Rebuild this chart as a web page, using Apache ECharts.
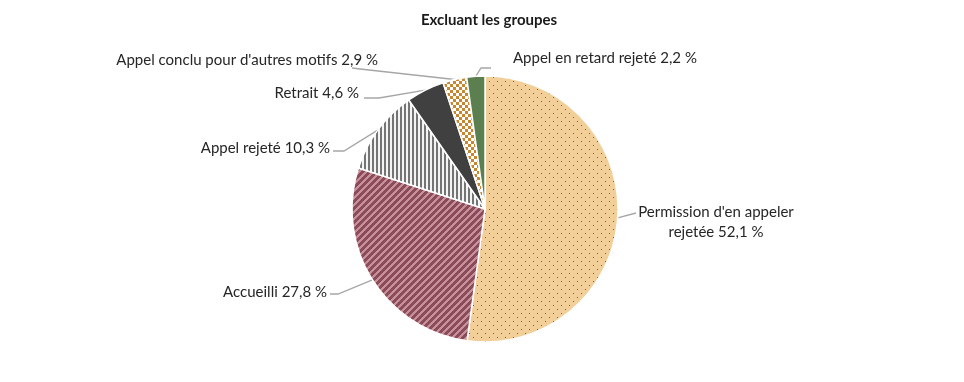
<!DOCTYPE html>
<html><head><meta charset="utf-8">
<script src="https://cdn.jsdelivr.net/npm/echarts@6/dist/echarts.min.js"></script>
<style>html,body{margin:0;padding:0;background:#fff}#c{width:964px;height:382px}</style>
</head><body><div id="c"></div>
<script>
const categories = ["Permission d'en appeler\nrejetée", "Accueilli", "Appel rejeté", "Retrait", "Appel conclu pour d'autres motifs", "Appel en retard rejeté"];
const values = [52.1, 27.8, 10.3, 4.6, 2.9, 2.2];
const valueLabels = ["52,1 %", "27,8 %", "10,3 %", "4,6 %", "2,9 %", "2,2 %"];
const title = "Excluant les groupes";

function pat(w, h, draw) {
  const c = document.createElement('canvas'); c.width = w; c.height = h;
  const g = c.getContext('2d'); draw(g, w, h); return c;
}
const dots = pat(8, 8, (g) => { g.fillStyle = '#F2CF98'; g.fillRect(0,0,8,8); g.fillStyle = '#66615a'; g.fillRect(1,1,1,1); g.fillRect(5,5,1,1); });
const diag = pat(7, 7, (g) => { for (let x=0;x<7;x++) for (let y=0;y<7;y++){ g.fillStyle = ((x+y)%7<4)?'#8C4B59':'#C6919B'; g.fillRect(x,y,1,1);} });
const vert = pat(4, 4, (g) => { g.fillStyle='#747474'; g.fillRect(0,0,4,4); g.fillStyle='#f4f4f4'; g.fillRect(2,0,2,4); });
const checker = pat(6, 6, (g) => { g.fillStyle='#ffffff'; g.fillRect(0,0,6,6); g.fillStyle='#C8862E'; g.fillRect(0,0,3,3); g.fillRect(3,3,3,3); });
const fills = [ {image: dots, repeat:'repeat'}, {image: diag, repeat:'repeat'}, {image: vert, repeat:'repeat'}, '#404040', {image: checker, repeat:'repeat'}, '#5B7F4F' ];

const labelPlace = [
  {x:716, y:222, align:'center', bend:[636,213], end:[636,213]},
  {x:327, y:292, align:'right', bend:[338,294], end:[330,294]},
  {x:330, y:148, align:'right', bend:[344,151], end:[333,151]},
  {x:359, y:93, align:'right', bend:[379,98], end:[364,98]},
  {x:378, y:60, align:'right', bend:[360,69], end:[352,68]},
  {x:513, y:58, align:'left', bend:[481,68], end:[491,68]}
];

const chart = echarts.init(document.getElementById('c'));
chart.setOption({
  animation: false,
  title: { text: title, left: 484, top: 8, textAlign: 'center', textStyle: { fontFamily: 'Lato', fontWeight: 'bold', fontSize: 15, color: '#1a1a1a' } },
  series: [{
    type: 'pie', center: [485, 209], radius: 133, startAngle: 90, clockwise: true,
    avoidLabelOverlap: false,
    itemStyle: { borderColor: '#fff', borderWidth: 1.5 },
    label: { show: true, position: 'outside', fontFamily: 'Lato', fontSize: 15, color: '#262626', lineHeight: 20,
      formatter: p => p.name + ' ' + valueLabels[p.dataIndex] },
    labelLine: { show: true, lineStyle: { color: '#a6a6a6', width: 1.3 } },
    labelLayout: function (p) {
      const L = labelPlace[p.dataIndex];
      const e = p.labelLinePoints ? p.labelLinePoints[0] : L.bend;
      return { x: L.x, y: L.y, align: L.align, verticalAlign: 'middle', labelLinePoints: [e, L.bend, L.end] };
    },
    data: categories.map((n, i) => ({ name: n, value: values[i], itemStyle: { color: fills[i] } }))
  }]
});
</script></body></html>
